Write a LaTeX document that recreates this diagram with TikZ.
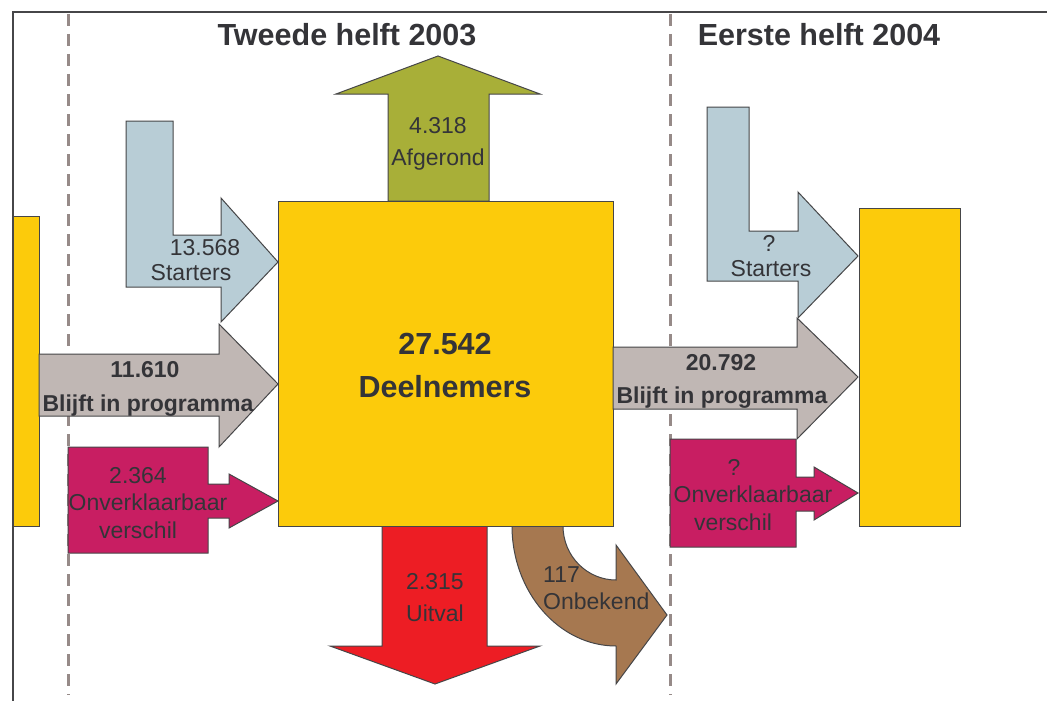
\documentclass[tikz,border=0pt]{standalone}
\usepackage{fontspec}
\setmainfont{Liberation Sans}
\definecolor{cyellow}{RGB}{252,203,11}
\definecolor{cblue}{RGB}{184,205,214}
\definecolor{cgray}{RGB}{192,183,180}
\definecolor{cmag}{RGB}{200,30,98}
\definecolor{cgreen}{RGB}{168,175,56}
\definecolor{cred}{RGB}{237,29,36}
\definecolor{cbrown}{RGB}{166,120,80}
\definecolor{ctext}{RGB}{52,52,56}
\definecolor{cline}{RGB}{70,70,72}
\definecolor{cdash}{RGB}{150,138,136}
\tikzset{
  flowshape/.style={draw=cline, line width=1pt, line join=miter},
  txt/.style={anchor=base, inner sep=0pt, text=ctext, font=\fontsize{23}{27}\selectfont},
  btxt/.style={txt, font=\fontsize{23}{27}\selectfont\bfseries},
  big/.style={txt, font=\fontsize{30.5}{34}\selectfont\bfseries},
  divider/.style={draw=cdash, line width=3pt, dash pattern=on 12pt off 8pt},
}
\begin{document}
\begin{tikzpicture}[x=1pt,y=-1pt]
\useasboundingbox (0,0) rectangle (1047,701);
\fill[white] (0,0) rectangle (1047,701);
% dividers
\coordinate (d1t) at (68,14); \coordinate (d1b) at (68,695);
\coordinate (d2t) at (670,14); \coordinate (d2b) at (670,695);
\draw[divider] (d1t) -- (d1b);
\draw[divider] (d2t) -- (d2b);
% frame
\coordinate (f1) at (13,701); \coordinate (f2) at (13,12); \coordinate (f3) at (1047,12);
\draw[draw=cline, line width=2.2pt] (f1) -- (f2) -- (f3);
% titles
\node[big] (t1) at (347,46) {Tweede helft 2003};
\node[big] (t2) at (819,46) {Eerste helft 2004};
% left yellow bar
\draw[flowshape, fill=cyellow] (13,216) rectangle (39,526);
% left starters L arrow
\draw[flowshape, fill=cblue] (126,121) -- (173,121) -- (173,235) -- (221,235) -- (221,198) -- (278,262) -- (221,322) -- (221,287) -- (126,287) -- cycle;
% left blijft arrow
\draw[flowshape, fill=cgray] (39,354) -- (219,354) -- (219,324) -- (278,384) -- (219,447) -- (219,416) -- (39,416) -- cycle;
% left magenta
\draw[flowshape, fill=cmag] (68,447) -- (208,447) -- (208,484) -- (229,484) -- (229,474) -- (278,501) -- (229,528) -- (229,518) -- (208,518) -- (208,553) -- (68,553) -- cycle;
% green up arrow
\draw[flowshape, fill=cgreen] (388,201) -- (388,94) -- (336,94) -- (438,56) -- (540,94) -- (489,94) -- (489,201) -- cycle;
% red down arrow
\draw[flowshape, fill=cred] (382,526) -- (382,646) -- (330,646) -- (435,684) -- (540,646) -- (487,646) -- (487,526) -- cycle;
% brown curved arrow
\draw[flowshape, fill=cbrown] (512,526) .. controls (512,592) and (559,646) .. (616,646) -- (616,684) -- (667,615) -- (616,545) -- (616,580) .. controls (587,580) and (563,556) .. (563,526) -- cycle;
% central square
\draw[flowshape, fill=cyellow] (278,201) rectangle (613,526);
% right starters
\draw[flowshape, fill=cblue] (707,107) -- (749,107) -- (749,231) -- (798,231) -- (798,192) -- (858,256) -- (798,318) -- (798,281) -- (707,281) -- cycle;
% right blijft
\draw[flowshape, fill=cgray] (613,347) -- (797,347) -- (797,318) -- (858,377) -- (797,439) -- (797,409) -- (613,409) -- cycle;
% right magenta
\draw[flowshape, fill=cmag] (670,439) -- (796,439) -- (796,477) -- (814,477) -- (814,467) -- (858,493) -- (814,520) -- (814,511) -- (796,511) -- (796,547) -- (670,547) -- cycle;
% right yellow bar
\draw[flowshape, fill=cyellow] (859,208) rectangle (960,526);
% texts
\node[big] (n1) at (445,354) {27.542};
\node[big] (n2) at (445,397) {Deelnemers};
\node[txt] (g1) at (438,133) {4.318};
\node[txt] (g2) at (438,165) {Afgerond};
\node[txt] (s1) at (205,255) {13.568};
\node[txt] (s2) at (191,280) {Starters};
\node[btxt] (b1) at (145,377) {11.610};
\node[btxt] (b2) at (148,411) {Blijft in programma};
\node[txt] (m1) at (138,483) {2.364};
\node[txt] (m2) at (148,510) {Onverklaarbaar};
\node[txt] (m3) at (138,538) {verschil};
\node[txt] (r1) at (435,589) {2.315};
\node[txt] (r2) at (435,621) {Uitval};
\node[txt, anchor=base west] (o1) at (543,582) {117};
\node[txt, anchor=base west] (o2) at (543,609) {Onbekend};
\node[txt] (rs1) at (769,251) {?};
\node[txt] (rs2) at (771,276) {Starters};
\node[btxt] (rb1) at (721,370) {20.792};
\node[btxt] (rb2) at (722,403) {Blijft in programma};
\node[txt] (rm1) at (734,475) {?};
\node[txt] (rm2) at (753,502) {Onverklaarbaar};
\node[txt] (rm3) at (733,530) {verschil};
\end{tikzpicture}
\end{document}
